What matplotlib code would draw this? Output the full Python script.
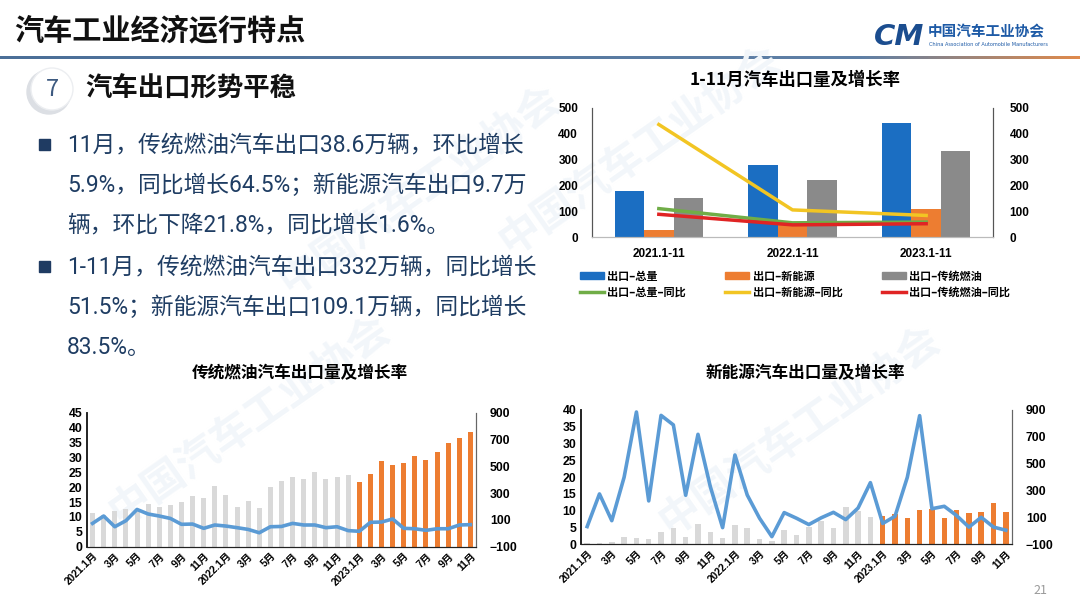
import numpy as np
import matplotlib
matplotlib.use("Agg")
import matplotlib.pyplot as plt
from matplotlib.patches import Circle, Rectangle
from matplotlib.colors import LinearSegmentedColormap
from matplotlib.lines import Line2D
from matplotlib.patches import Patch

plt.rcParams['font.family'] = ['Noto Sans CJK SC', 'DejaVu Sans']
NUM_FONT = ['Liberation Sans', 'Noto Sans CJK SC']

# ---- data: 1-11 month totals (10k units) and yoy (%)
periods = ['2021.1-11', '2022.1-11', '2023.1-11']
total_vol = [180, 278, 441]
nev_vol = [27, 60, 109.1]
ice_vol = [152, 219, 332]
total_yoy = [110, 55, 57.9]
nev_yoy_sum = [436, 105, 83.5]
ice_yoy_sum = [88, 47, 51.5]

# ---- monthly data 2021.1 - 2023.11
years = ['2021', '2022', '2023']
months_per_year = [12, 12, 11]
ice_month = [11.2, 10.5, 12.1, 12.8, 12.5, 14.2, 13.4, 14.0, 15.1, 17.0, 16.2, 20.4,
             17.4, 13.2, 15.5, 13.0, 20.2, 22.0, 23.3, 22.6, 25.2, 22.7, 23.3, 24.1,
             21.8, 24.3, 28.7, 27.4, 28.0, 30.5, 29.1, 31.8, 34.9, 36.5, 38.6]
ice_month_yoy = [74, 129, 49, 94, 178, 144, 129, 111, 67, 69, 37, 62,
                 54, 42, 29, 4, 49, 51, 74, 62, 62, 42, 49, 20,
                 15, 82, 84, 107, 37, 34, 22, 34, 34, 62, 64.5]
nev_month = [0.5, 0.4, 0.8, 2.3, 2.0, 1.6, 3.8, 4.8, 2.1, 6.1, 3.6, 1.8,
             5.8, 4.8, 1.6, 1.0, 4.3, 2.8, 5.1, 6.8, 5.0, 11.2, 10.0, 8.2,
             8.4, 8.9, 7.9, 10.2, 10.4, 7.9, 10.2, 9.2, 9.7, 12.4, 9.7]
nev_month_yoy = [32, 275, 76, 399, 885, 223, 860, 789, 265, 719, 330, 24,
                 565, 267, 94, -43, 136, 94, 47, 97, 138, 84, 170, 359,
                 55, 109, 399, 858, 165, 183, 114, 28, 101, 28, 5]

month_labels = []
for y, n in zip(years, months_per_year):
    for m in range(1, n + 1):
        month_labels.append(f'{y}.1月' if m == 1 else f'{m}月')
month_colors = ['#d9d9d9'] * 24 + ['#ed7d31'] * 11

bullet1 = ['11月，传统燃油汽车出口38.6万辆，环比增长',
           '5.9%，同比增长64.5%；新能源汽车出口9.7万',
           '辆，环比下降21.8%，同比增长1.6%。']
bullet2 = ['1-11月，传统燃油汽车出口332万辆，同比增长',
           '51.5%；新能源汽车出口109.1万辆，同比增长',
           '83.5%。']

W, H = 1080, 608
fig = plt.figure(figsize=(W / 100, H / 100), dpi=100)


def px(x0, y0, x1, y1):
    # pixel box -> figure fraction rect
    return [x0 / W, 1 - y1 / H, (x1 - x0) / W, (y1 - y0) / H]


# ---- background / decorations
bg = fig.add_axes([0, 0, 1, 1], zorder=-5)
grad = np.linspace(0, 1, 512).reshape(1, -1)
cmap = LinearSegmentedColormap.from_list('hdr', [(0, '#4b6f98'), (0.8, '#5f80a6'), (1, '#df8a4c')])
bg.imshow(grad, extent=(0, W, 59.5, 56.5), aspect='auto', cmap=cmap)
bg.set_xlim(0, W)
bg.set_ylim(H, 0)
bg.axis('off')

# watermark
for (wx, wy) in [(250, 420), (640, 150), (800, 430), (420, 190)]:
    bg.text(wx, wy, '中国汽车工业协会', rotation=35, fontsize=30, color='#f2f6fa',
            ha='center', va='center', fontweight='bold', zorder=0)

bg.text(14, 30, '汽车工业经济运行特点', fontsize=21, fontweight='bold', color='#111111',
        va='center', ha='left')

# logo
bg.text(874, 37, 'CM', fontsize=21, fontweight='bold', style='italic', color='#1b4d8f',
        va='center', ha='left', family='DejaVu Sans')
bg.text(928, 31, '中国汽车工业协会', fontsize=10.5, fontweight='bold', color='#1d5aa6',
        va='center', ha='left')
bg.text(929, 44, 'China Association of Automobile Manufacturers', fontsize=3.6,
        color='#1d5aa6', va='center', ha='left', family='DejaVu Sans')

# section number
bg.add_patch(Circle((49, 92), 22, color='#dcdfe4', zorder=2))
bg.add_patch(Circle((52, 89), 21, facecolor='white', edgecolor='#eceef1', zorder=3))
bg.text(52, 89, '7', fontsize=17, color='#3d5a80', ha='center', va='center', zorder=4)
bg.text(85, 89, '汽车出口形势平稳', fontsize=19, fontweight='bold', color='#111111',
        va='center', ha='left')

# bullets
text_color = '#1f3d63'
for lines, y0 in [(bullet1, 145), (bullet2, 267)]:
    bg.add_patch(Rectangle((39, y0 - 6), 11, 11, color='#1f3b62'))
    for i, line in enumerate(lines):
        bg.text(67, y0 + i * 40, line, fontsize=16.4, color=text_color, va='center', ha='left',
                family=['Roboto', 'Noto Sans CJK SC'])

bg.text(1040, 590, '21', fontsize=9, color='#9a9a9a', ha='center', va='center')

# ---- top chart: 1-11 month totals
ax = fig.add_axes(px(592, 108, 993, 237))
ax.patch.set_alpha(0)
x = np.arange(len(periods))
bw = 0.22
c_total, c_nev, c_ice = '#1b6ec2', '#ed7d31', '#8a8a8a'
ax.bar(x - bw, total_vol, bw, color=c_total, label='出口-总量')
ax.bar(x, nev_vol, bw, color=c_nev, label='出口-新能源')
ax.bar(x + bw, ice_vol, bw, color=c_ice, label='出口-传统燃油')
ax.set_xlim(-0.5, 2.5)
ax.set_ylim(0, 500)
ax.set_yticks(range(0, 501, 100))
ax.set_xticks(x)
ax.set_xticklabels(periods)
ax2 = ax.twinx()
ax2.plot(x, total_yoy, color='#70ad47', lw=2.5, label='出口-总量-同比')
ax2.plot(x, nev_yoy_sum, color='#f2c523', lw=2.5, label='出口-新能源-同比')
ax2.plot(x, ice_yoy_sum, color='#e02424', lw=2.5, label='出口-传统燃油-同比')
ax2.set_ylim(0, 500)
ax2.set_yticks(range(0, 501, 100))
for a in (ax, ax2):
    a.spines['top'].set_visible(False)
    a.spines['left'].set_color('#555555')
    a.spines['right'].set_color('#555555')
    a.spines['bottom'].set_color('#bbbbbb')
    a.tick_params(length=0, labelsize=8.5)
ax.tick_params(axis='y', pad=10)
ax.tick_params(axis='x', pad=8)
ax2.tick_params(axis='y', pad=12)
for lab in ax.get_yticklabels() + ax.get_xticklabels() + ax2.get_yticklabels():
    lab.set_fontfamily(NUM_FONT)
    lab.set_fontweight('bold')
fig.text(795 / W, 1 - 80 / H, '1-11月汽车出口量及增长率', fontsize=12.5, fontweight='bold',
         ha='center', va='center')

handles = [Patch(color=c_total), Line2D([], [], color='#70ad47', lw=2.5),
           Patch(color=c_nev), Line2D([], [], color='#f2c523', lw=2.5),
           Patch(color=c_ice), Line2D([], [], color='#e02424', lw=2.5)]
labels = ['出口–总量', '出口–总量–同比', '出口–新能源', '出口–新能源–同比',
          '出口–传统燃油', '出口–传统燃油–同比']
fig.legend(handles, labels, ncol=3, loc='upper left', bbox_to_anchor=(574 / W, 1 - 264 / H),
           frameon=False, handlelength=2.2, handleheight=0.6, handletextpad=0.3,
           columnspacing=3.5, labelspacing=0.3, borderpad=0,
           prop={'weight': 'bold', 'size': 8, 'family': ['Noto Sans CJK SC', 'DejaVu Sans']})


# ---- bottom charts: monthly volume and yoy
def monthly(rect, vols, yoys, ymax, title, title_x):
    a = fig.add_axes(rect)
    a.patch.set_alpha(0)
    idx = np.arange(len(vols))
    a.bar(idx, vols, 0.45, color=month_colors)
    a.set_xlim(-0.5, len(vols) - 0.5)
    a.set_ylim(0, ymax)
    a.set_yticks(range(0, ymax + 1, 5))
    a.set_xticks(idx[::2])
    a.set_xticklabels(month_labels[::2], rotation=45, ha='right', rotation_mode='anchor')
    b = a.twinx()
    b.plot(idx, yoys, color='#5b9bd5', lw=2.6)
    b.set_ylim(-100, 900)
    b.set_yticks(range(-100, 901, 200))
    for s in (a, b):
        s.spines['top'].set_visible(False)
        s.spines['left'].set_color('#222222')
        s.spines['right'].set_color('#666666')
        s.spines['bottom'].set_color('#222222')
        s.spines['left'].set_linewidth(1.2)
        s.tick_params(length=0, labelsize=8.8)
    a.tick_params(axis='x', labelsize=7.4, pad=3)
    b.tick_params(axis='y', pad=10)
    for lab in a.get_yticklabels() + a.get_xticklabels() + b.get_yticklabels():
        lab.set_fontfamily(NUM_FONT)
        lab.set_fontweight('bold')
    fig.text(title_x / W, 1 - 373 / H, title, fontsize=12, fontweight='bold',
             ha='center', va='center')


monthly(px(87, 412.7, 476, 546.7), ice_month, ice_month_yoy, 45,
        '传统燃油汽车出口量及增长率', 300)
monthly(px(581, 410, 1012, 544.3), nev_month, nev_month_yoy, 40,
        '新能源汽车出口量及增长率', 805)

fig.savefig('out.png', dpi=100)
